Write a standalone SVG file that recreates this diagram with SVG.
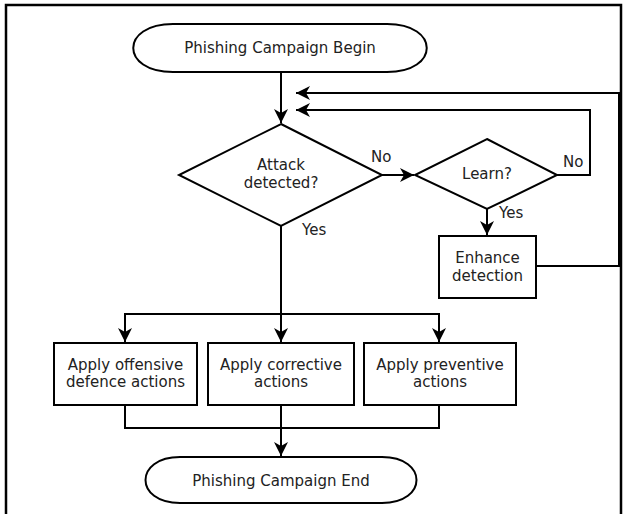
<svg xmlns="http://www.w3.org/2000/svg" width="626" height="514" viewBox="0 0 626 514">
<style>
.s{fill:#fff;stroke:#000;stroke-width:2}
.c{fill:none;stroke:#000;stroke-width:2}
.t{font-family:"DejaVu Sans",sans-serif;font-size:15px;fill:#222;text-anchor:middle}
.l{font-family:"DejaVu Sans",sans-serif;font-size:15px;fill:#222}
</style>
<defs>
<marker id="a" markerUnits="userSpaceOnUse" markerWidth="16" markerHeight="16" viewBox="-14 -8 16 16" refX="0" refY="0" orient="auto">
<path d="M0,0 L-14,-7 L-10,0 L-14,7 Z" fill="#000"/>
</marker>
</defs>
<rect width="626" height="514" fill="#fff"/>
<path d="M6,514 V5 H621 V514" fill="none" stroke="#000" stroke-width="2.5"/>
<g id="connectors">
<path class="c" d="M281,72 V123" marker-end="url(#a)"/>
<path class="c" d="M382,175 H414" marker-end="url(#a)"/>
<path class="c" d="M557,175 H590 V110 H296" marker-end="url(#a)"/>
<path class="c" d="M536,266 H619 V93 H296" marker-end="url(#a)"/>
<path class="c" d="M487,209 V235" marker-end="url(#a)"/>
<path class="c" d="M281,226 V342" marker-end="url(#a)"/>
<path class="c" d="M125,342 V314 H439 V342" marker-end="url(#a)"/>
<path class="c" d="M125,314 V342" marker-end="url(#a)"/>
<path class="c" d="M125,405 V428 H439 V405"/>
<path class="c" d="M281,405 V456" marker-end="url(#a)"/>
<text class="l" x="371" y="162">No</text>
<text class="l" x="563" y="167">No</text>
<text class="l" x="499" y="218">Yes</text>
<text class="l" x="302" y="235">Yes</text>
</g>
<g id="begin">
<path class="s" d="M173,24 H387 C440,24 440,72 387,72 H173 C120,72 120,24 173,24 Z"/>
<text class="t" x="280" y="53">Phishing Campaign Begin</text>
</g>
<g id="attack">
<path class="s" d="M281,124 L382,175 L281,226 L179,175 Z"/>
<text class="t" x="281" y="170">Attack</text>
<text class="t" x="281" y="188">detected?</text>
</g>
<g id="learn">
<path class="s" d="M487,139 L557,175 L487,209 L415,175 Z"/>
<text class="t" x="487" y="179">Learn?</text>
</g>
<g id="enhance">
<rect class="s" x="439" y="236" width="97" height="62"/>
<text class="t" x="487.5" y="263">Enhance</text>
<text class="t" x="487.5" y="281">detection</text>
</g>
<g id="offensive">
<rect class="s" x="54" y="343" width="143" height="62"/>
<text class="t" x="125.5" y="370">Apply offensive</text>
<text class="t" x="125.5" y="387">defence actions</text>
</g>
<g id="corrective">
<rect class="s" x="208" y="343" width="146" height="62"/>
<text class="t" x="281" y="370">Apply corrective</text>
<text class="t" x="281" y="387">actions</text>
</g>
<g id="preventive">
<rect class="s" x="364" y="343" width="152" height="62"/>
<text class="t" x="440" y="370">Apply preventive</text>
<text class="t" x="440" y="387">actions</text>
</g>
<g id="end">
<path class="s" d="M180,457 H382 C428,457 428,503 382,503 H180 C134,503 134,457 180,457 Z"/>
<text class="t" x="281" y="486">Phishing Campaign End</text>
</g>
</svg>
